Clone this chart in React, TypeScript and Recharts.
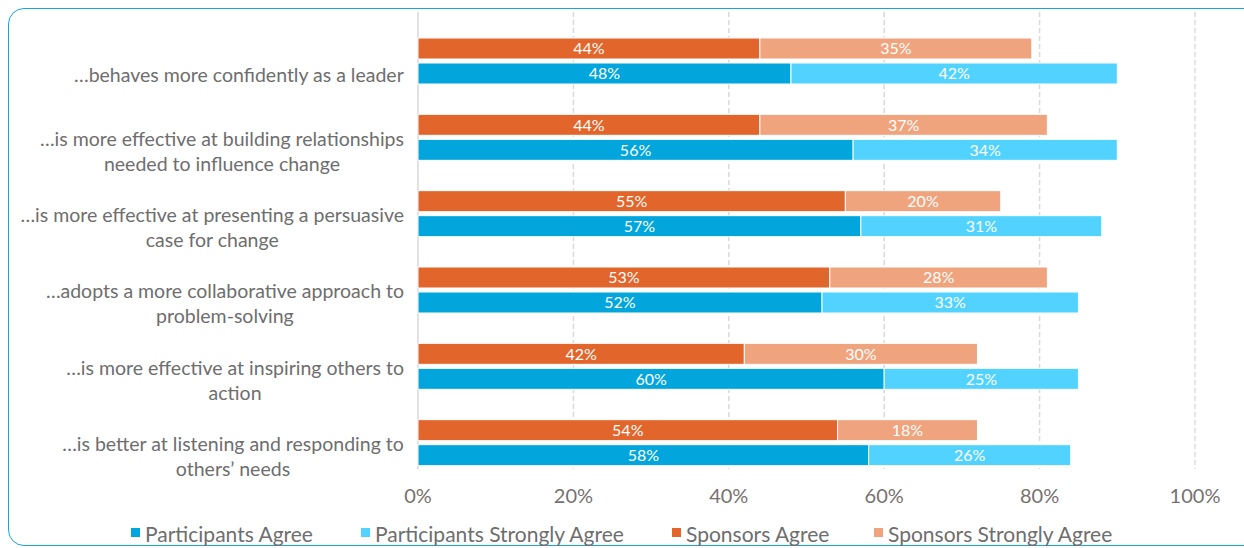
import React from "react";
import { BarChart, Bar, XAxis, YAxis, LabelList, CartesianGrid } from "recharts";

const categories = [
  "…behaves more confidently as a leader",
  "…is more effective at building relationships\nneeded to influence change",
  "…is more effective at presenting a persuasive\ncase for change",
  "…adopts a more collaborative approach to\nproblem-solving",
  "…is more effective at inspiring others to\naction",
  "…is better at listening and responding to\nothers’ needs",
];
const participantsAgree = [48, 56, 57, 52, 60, 58];
const participantsStrongly = [42, 34, 31, 33, 25, 26];
const sponsorsAgree = [44, 44, 55, 53, 42, 54];
const sponsorsStrongly = [35, 37, 20, 28, 30, 18];
const xTicks = [0, 20, 40, 60, 80, 100];
const seriesNames = ["Participants Agree", "Participants Strongly Agree", "Sponsors Agree", "Sponsors Strongly Agree"];

const COLORS = ["#02A6DC", "#52D3FF", "#E2652C", "#EFA47E"];
const FONT = "Lato, 'Open Sans', sans-serif";
const CAT_SIZE = 19.5;

const data = categories.map((name, i) => ({
  name,
  pa: participantsAgree[i],
  ps: participantsStrongly[i],
  sa: sponsorsAgree[i],
  ss: sponsorsStrongly[i],
}));

const legendLeft = [131, 361, 672, 874];

let ctx: CanvasRenderingContext2D | null = null;
function measure(s: string) {
  if (!ctx) {
    ctx = document.createElement("canvas").getContext("2d");
  }
  if (!ctx) return s.length * CAT_SIZE * 0.5;
  ctx.font = `${CAT_SIZE}px Lato`;
  return ctx.measureText(s).width;
}

function CategoryTick(props: any) {
  const { y, payload } = props;
  const lines = String(payload.value).split("\n");
  const lh = 25;
  const start = y + 13 - ((lines.length - 1) * lh) / 2;
  const w = Math.max(...lines.map(measure));
  const cx = 404 - w / 2;
  return (
    <text x={cx} y={start} textAnchor="middle" fill="#6E6E6E" fontSize={CAT_SIZE} fontFamily={FONT}>
      {lines.map((l, i) => (
        <tspan key={i} x={cx} y={start + i * lh} dominantBaseline="central">
          {l}
        </tspan>
      ))}
    </text>
  );
}

const gridLine = (p: any) => (
  <line
    key={`g${p.index}`}
    x1={p.x1}
    x2={p.x2}
    y1={12}
    y2={469}
    stroke="#D9D9D9"
    strokeWidth={1.5}
    strokeDasharray={p.index === 0 ? undefined : "5 3"}
  />
);

const fmt = (v: any) => `${v}%`;

export default function App() {
  return (
    <div style={{ position: "absolute", left: 0, top: 0, width: 1244, height: 548, overflow: "hidden", background: "#fff" }}>
      <div
        style={{
          position: "absolute",
          left: 8,
          top: 8,
          width: 1270,
          height: 536,
          border: "1.5px solid #17A6DD",
          borderRadius: 16,
        }}
      />
      <div style={{ position: "absolute", left: 0, top: 0 }}>
        <BarChart
          width={1244}
          height={548}
          data={data}
          layout="vertical"
          margin={{ top: 23, right: 49, bottom: 37, left: 8 }}
          barSize={21}
          barGap={4}
        >
          <CartesianGrid horizontal={false} vertical={gridLine} />
          <XAxis
            type="number"
            domain={[0, 100]}
            ticks={xTicks}
            tickFormatter={fmt}
            axisLine={false}
            tickLine={false}
            tick={{ fill: "#767171", fontSize: 20, fontFamily: FONT }}
          />
          <YAxis
            type="category"
            dataKey="name"
            width={410}
            axisLine={false}
            tickLine={false}
            tick={<CategoryTick />}
            interval={0}
          />
          <Bar dataKey="sa" stackId="s" name={seriesNames[2]} fill={COLORS[2]} stroke="#fff" strokeWidth={1} isAnimationActive={false}>
            <LabelList dataKey="sa" position="center" formatter={fmt} fill="#fff" fontSize={16} fontFamily={FONT} />
          </Bar>
          <Bar dataKey="ss" stackId="s" name={seriesNames[3]} fill={COLORS[3]} stroke="#fff" strokeWidth={1} isAnimationActive={false}>
            <LabelList dataKey="ss" position="center" formatter={fmt} fill="#fff" fontSize={16} fontFamily={FONT} />
          </Bar>
          <Bar dataKey="pa" stackId="p" name={seriesNames[0]} fill={COLORS[0]} stroke="#fff" strokeWidth={1} isAnimationActive={false}>
            <LabelList dataKey="pa" position="center" formatter={fmt} fill="#fff" fontSize={16} fontFamily={FONT} />
          </Bar>
          <Bar dataKey="ps" stackId="p" name={seriesNames[1]} fill={COLORS[1]} stroke="#fff" strokeWidth={1} isAnimationActive={false}>
            <LabelList dataKey="ps" position="center" formatter={fmt} fill="#fff" fontSize={16} fontFamily={FONT} />
          </Bar>
        </BarChart>
      </div>
      {seriesNames.map((n, i) => (
        <div
          key={n}
          style={{
            position: "absolute",
            left: legendLeft[i],
            top: 520,
            height: 26,
            display: "flex",
            alignItems: "center",
            fontFamily: FONT,
            fontSize: 21,
            color: "#6E6E6E",
            whiteSpace: "nowrap",
          }}
        >
          <span style={{ display: "inline-block", width: 9, height: 9, background: COLORS[i], marginRight: 5, marginTop: -2 }} />
          {n}
        </div>
      ))}
    </div>
  );
}
